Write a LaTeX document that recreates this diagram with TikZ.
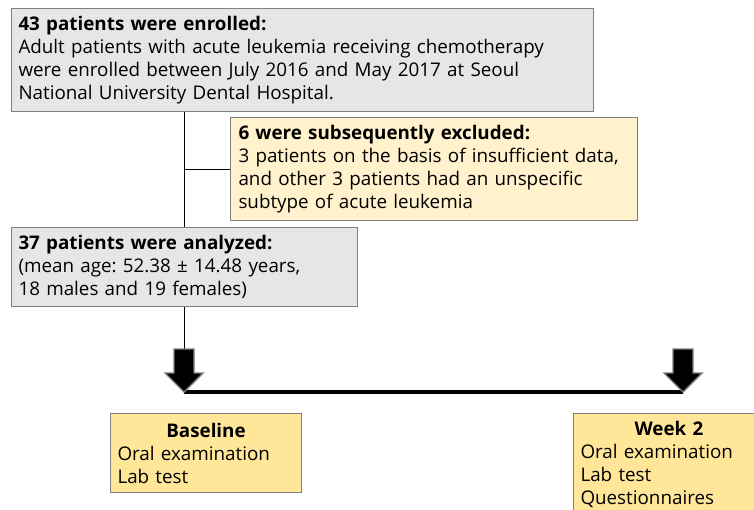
\documentclass[tikz,border=0pt]{standalone}
\usepackage{fontspec}
\setmainfont{Open Sans}
\frenchspacing
\definecolor{boxgray}{HTML}{E6E6E6}
\definecolor{lightyel}{HTML}{FFF2CC}
\definecolor{goldyel}{HTML}{FFE699}
\definecolor{edgegray}{HTML}{7F7F7F}
\begin{document}
\begin{tikzpicture}[x=1pt,y=-1pt,
  box/.style={draw=edgegray, line width=1pt, rectangle, inner xsep=7pt, inner ysep=0pt,
    align=left, anchor=north west, font=\fontsize{18.8}{23}\selectfont},
  graybox/.style={box, fill=boxgray},
  paleybox/.style={box, fill=lightyel},
  goldbox/.style={box, fill=goldyel},
  conn/.style={draw=black, line width=1pt},
  blockarrow/.style={draw=edgegray, fill=black, line width=1.4pt, line join=miter}]
\clip (0,0) rectangle (754,509);
\fill[white] (0,0) rectangle (754,509);

\node[graybox, minimum width=582pt, minimum height=103pt, text width=568pt] (enrolled) at (11,8)
  {\textbf{43 patients were enrolled:}\\
   Adult patients with acute leukemia receiving chemotherapy\\
   were enrolled between July 2016 and May 2017 at Seoul\\
   National University Dental Hospital.};

\node[paleybox, minimum width=407pt, minimum height=103pt, text width=391pt, inner xsep=8pt] (excluded) at (230,117)
  {\textbf{6 were subsequently excluded:}\\
   3 patients on the basis of insufficient data,\\
   and other 3 patients had an unspecific\\
   subtype of acute leukemia};

\node[graybox, minimum width=346pt, minimum height=79pt, text width=332pt] (analyzed) at (11,227)
  {\textbf{37 patients were analyzed:}\\
   (mean age: 52.38 ± 14.48 years,\\
   18 males and 19 females)};

\node[goldbox, minimum width=191pt, minimum height=79pt, text width=177pt] (baseline) at (110,413)
  {\makebox[\linewidth]{\textbf{Baseline}}\\
   Oral examination\\
   Lab test};

\node[goldbox, minimum width=191pt, minimum height=102pt, text width=177pt] (week) at (573,413)
  {\makebox[\linewidth]{\textbf{Week 2}}\\
   Oral examination\\
   Lab test\\
   Questionnaires};

\coordinate (tipL) at (184,392);
\coordinate (tailL) at (184,349);
\coordinate (tipR) at (683,392);
\coordinate (tailR) at (683,349);

\draw[conn] (enrolled.south -| tailL) -- (analyzed.north -| tailL);
\draw[conn] (tailL |- excluded.west) -- (excluded.west);
\draw[conn] (analyzed.south -| tailL) -- (tailL);
\draw[line width=3.5pt] (tipL) -- (tipR);
\draw[blockarrow] (tipL) -- ++(-19,-19) -- ++(9,0) -- ++(0,-24) -- ++(20,0) -- ++(0,24) -- ++(9,0) -- cycle;
\draw[blockarrow] (tipR) -- ++(-19,-19) -- ++(9,0) -- ++(0,-24) -- ++(20,0) -- ++(0,24) -- ++(9,0) -- cycle;
\end{tikzpicture}
\end{document}
